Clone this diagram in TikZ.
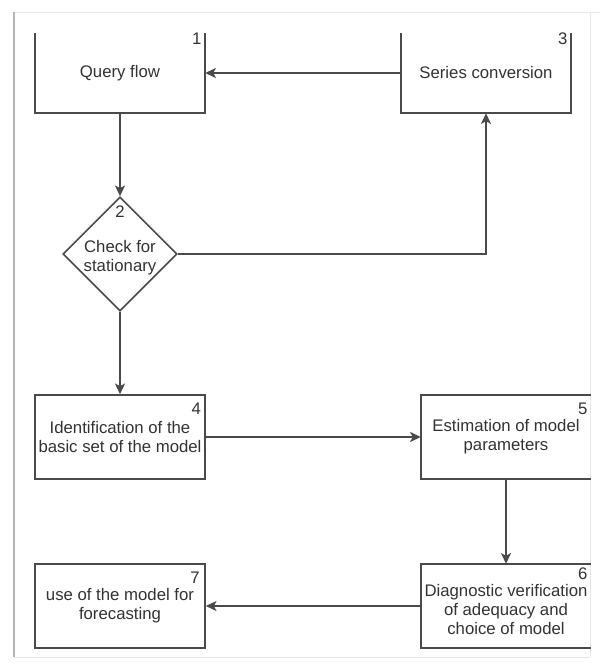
\documentclass[tikz,border=0pt]{standalone}
\usepackage{fontspec}
\setmainfont{Liberation Sans}
\usetikzlibrary{shapes.geometric,arrows.meta}
\definecolor{linegray}{HTML}{4A4A4A}
\definecolor{textgray}{HTML}{333333}
\definecolor{framegray}{HTML}{B4B4B4}
\definecolor{paleframe}{HTML}{E8E8E8}
\tikzstyle{every node}=[text=textgray,font=\fontsize{14.3}{16.2}\selectfont,align=center,inner sep=0pt]
\tikzstyle{edge}=[draw=linegray,line width=1.4pt]
\tikzstyle{arr}=[edge,-{Stealth[length=3.2mm,width=3mm,inset=0.8mm]}]
\tikzstyle{openbox}=[minimum width=5.1cm,minimum height=2.4cm]
\tikzstyle{block}=[minimum width=5.1cm,minimum height=2.52cm]
\tikzstyle{decision}=[diamond,edge,aspect=1,minimum width=3.39cm,minimum height=3.33cm]
\tikzstyle{num}=[anchor=north east]

\begin{document}
\begin{tikzpicture}[x=0.03cm,y=-0.03cm]
	\useasboundingbox (0,0) rectangle (600,666);
	\fill[white] (0,0) rectangle (600,666);
	% frame of the figure
	\draw[paleframe,line width=0.8pt] (14,12) -- (600,12);
	\draw[paleframe,line width=0.8pt] (14,657) -- (590,657);
	\draw[paleframe,line width=0.5pt] (590,12) -- (590,657);
	\draw[framegray,line width=1.6pt] (14,12) -- (14,657);

	% blocks
	\node[openbox] (query) at (120,73) {Query flow};
	\node[openbox] (series) at (486,73) {Series conversion};
	\node[decision] (check) at (120,254) {\\Check for\\stationary};
	\node[block,edge] (ident) at (120,437) {Identification of the\\basic set of the model};
	\node[block] (estim) at (506,437) {Estimation of model\\parameters};
	\node[block] (diagn) at (506,606) {};
	\node (diagntext) at ([yshift=-3pt]diagn.center) {Diagnostic verification\\of adequacy and\\choice of model};
	\node[block,edge] (usemod) at (120,606) {use of the model for\\forecasting};

	% open sides
	\draw[edge] (query.north west) -- (query.south west) -- (query.south east) -- (query.north east);
	\draw[edge] (series.north west) -- (series.south west) -- (series.south east) -- (series.north east);
	\draw[edge] (estim.north east) -- (estim.north west) -- (estim.south west) -- (estim.south east);
	\draw[edge] (diagn.north east) -- (diagn.north west) -- (diagn.south west) -- (diagn.south east);

	% numbers
	\node[num] at ([xshift=-3pt]query.north east) {1};
	\node[num] at ([xshift=-3pt]series.north east) {3};
	\node[anchor=north] at ([yshift=-8pt]check.north) {2};
	\node[num] at ([xshift=-4pt,yshift=-7pt]ident.north east) {4};
	\node[num] at ([xshift=-3pt,yshift=-7pt]estim.north east) {5};
	\node[num] at ([xshift=-3pt,yshift=-3pt]diagn.north east) {6};
	\node[num] at ([xshift=-5pt,yshift=-7pt]usemod.north east) {7};

	% connectors
	\draw[arr] (series.west) -- (query.east);
	\draw[arr] (query.south) -- (check.north);
	\draw[arr] (check.east) -| (series.south);
	\draw[arr] (check.south) -- (ident.north);
	\draw[arr] (ident.east) -- (estim.west);
	\draw[arr] (estim.south) -- (diagn.north);
	\draw[arr] (diagn.west) -- (usemod.east);
\end{tikzpicture}
\end{document}
